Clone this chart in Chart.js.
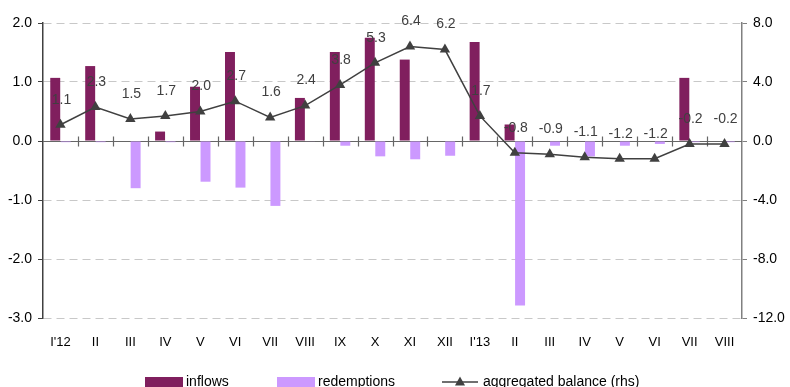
<!DOCTYPE html>
<html>
<head>
<meta charset="utf-8">
<script src="https://cdn.jsdelivr.net/npm/chart.js@4/dist/chart.umd.min.js"></script>
<style>
  html, body { margin: 0; padding: 0; background: #ffffff; }
  #wrap { width: 790px; height: 387px; }
</style>
</head>
<body>
<div id="wrap"><canvas id="c" width="790" height="387"></canvas></div>
<script>
// Monthly fund flows (left axis) and aggregated balance (right axis)
const months = ["I'12", "II", "III", "IV", "V", "VI", "VII", "VIII", "IX", "X", "XI", "XII",
                "I'13", "II", "III", "IV", "V", "VI", "VII", "VIII"];
const inflows = [1.07, 1.27, 0, 0.16, 0.92, 1.51, 0, 0.73, 1.51, 1.75, 1.38, 0,
                 1.68, 0.28, 0, 0, 0, 0, 1.07, 0];
const redemptions = [-0.02, -0.02, -0.80, -0.02, -0.69, -0.79, -1.10, -0.01, -0.08, -0.26, -0.31, -0.25,
                     -0.01, -2.79, -0.08, -0.26, -0.08, -0.05, -0.02, -0.02];
const balance = [1.1, 2.3, 1.5, 1.7, 2.0, 2.7, 1.6, 2.4, 3.8, 5.3, 6.4, 6.2,
                 1.7, -0.8, -0.9, -1.1, -1.2, -1.2, -0.2, -0.2];
const seriesNames = ["inflows", "redemptions", "aggregated balance (rhs)"];
const leftTicks = [-3, -2, -1, 0, 1, 2];
const rightTicks = [-12, -8, -4, 0, 4, 8];

const FONT = "'Liberation Sans', Arial, sans-serif";
const COL_IN = '#801f5e';
const COL_RED = '#cc99ff';
const COL_LINE = '#404040';

// Solid zero line with small category separators
const zeroLinePlugin = {
  id: 'zeroLine',
  beforeDatasetsDraw(chart) {
    const { ctx, chartArea, scales } = chart;
    const y0 = Math.round(scales.y.getPixelForValue(0)) + 0.5;
    const xs = scales.x;
    ctx.save();
    ctx.strokeStyle = '#666666';
    ctx.lineWidth = 1.2;
    ctx.beginPath();
    ctx.moveTo(chartArea.left, y0);
    ctx.lineTo(chartArea.right, y0);
    const n = months.length;
    for (let i = 1; i < n; i++) {
      const xb = Math.round((xs.getPixelForValue(i - 1) + xs.getPixelForValue(i)) / 2) + 0.5;
      ctx.moveTo(xb, y0 - 5);
      ctx.lineTo(xb, y0 + 5);
    }
    ctx.stroke();
    ctx.restore();
  }
};

// Value labels above the balance line points
const lineLabelPlugin = {
  id: 'lineLabels',
  afterDatasetsDraw(chart) {
    const { ctx } = chart;
    const meta = chart.getDatasetMeta(2);
    ctx.save();
    ctx.font = '14px ' + FONT;
    ctx.fillStyle = COL_LINE;
    ctx.textAlign = 'center';
    ctx.textBaseline = 'middle';
    meta.data.forEach((pt, i) => {
      ctx.fillText(balance[i].toFixed(1), pt.x + 1, pt.y - 25);
    });
    ctx.restore();
  }
};

// Legend row along the bottom edge
const bottomLegendPlugin = {
  id: 'bottomLegend',
  afterDraw(chart) {
    const { ctx } = chart;
    const yMid = 382;
    ctx.save();
    ctx.font = '14px ' + FONT;
    ctx.textBaseline = 'middle';
    ctx.textAlign = 'left';
    ctx.fillStyle = COL_IN;
    ctx.fillRect(145, 377, 38, 11);
    ctx.fillStyle = '#000000';
    ctx.fillText(seriesNames[0], 186, yMid);
    ctx.fillStyle = COL_RED;
    ctx.fillRect(277, 377, 38, 11);
    ctx.fillStyle = '#000000';
    ctx.fillText(seriesNames[1], 318, yMid);
    ctx.strokeStyle = COL_LINE;
    ctx.lineWidth = 1.5;
    ctx.beginPath();
    ctx.moveTo(442, yMid);
    ctx.lineTo(478, yMid);
    ctx.stroke();
    ctx.fillStyle = COL_LINE;
    ctx.beginPath();
    ctx.moveTo(460, yMid - 5.5);
    ctx.lineTo(465, yMid + 3.5);
    ctx.lineTo(455, yMid + 3.5);
    ctx.closePath();
    ctx.fill();
    ctx.fillStyle = '#000000';
    ctx.fillText(seriesNames[2], 483, yMid);
    ctx.restore();
  }
};

new Chart(document.getElementById('c'), {
  data: {
    labels: months,
    datasets: [
      {
        type: 'bar', label: seriesNames[0], data: inflows, yAxisID: 'y', order: 1,
        backgroundColor: COL_IN, borderWidth: 0,
        categoryPercentage: 0.6, barPercentage: 0.95
      },
      {
        type: 'bar', label: seriesNames[1], data: redemptions, yAxisID: 'y', order: 2,
        backgroundColor: COL_RED, borderWidth: 0,
        categoryPercentage: 0.6, barPercentage: 0.95
      },
      {
        type: 'line', label: seriesNames[2], data: balance, yAxisID: 'y2', order: 0,
        borderColor: COL_LINE, backgroundColor: COL_LINE, borderWidth: 1.5,
        pointStyle: 'triangle', pointRadius: 6, pointHoverRadius: 6,
        pointBackgroundColor: COL_LINE, pointBorderColor: COL_LINE, pointBorderWidth: 0,
        tension: 0, fill: false
      }
    ]
  },
  options: {
    responsive: false,
    animation: false,
    devicePixelRatio: 1,
    layout: { padding: { top: 23, left: 0, right: 0, bottom: 0 } },
    plugins: { legend: { display: false }, tooltip: { enabled: false } },
    scales: {
      x: {
        type: 'category',
        grid: { display: false, drawTicks: false },
        border: { display: false },
        ticks: { color: '#000000', font: { family: FONT, size: 13 }, padding: 17, maxRotation: 0, autoSkip: false },
        afterFit(scale) { scale.height = 69; }
      },
      y: {
        position: 'left',
        min: -3, max: 2,
        afterBuildTicks(scale) { scale.ticks = leftTicks.map(v => ({ value: v })); },
        ticks: {
          color: '#000000', font: { family: FONT, size: 14 }, padding: 6,
          callback: v => v.toFixed(1)
        },
        grid: {
          color: ctx => (ctx.tick && ctx.tick.value === 0) ? 'rgba(0,0,0,0)' : '#c8c8c8',
          tickColor: '#404040', tickLength: 5, tickBorderDash: [], lineWidth: 1
        },
        border: { display: true, color: '#404040', width: 1.5, dash: [8, 5] },
        afterFit(scale) { scale.width = 43; }
      },
      y2: {
        position: 'right',
        min: -12, max: 8,
        afterBuildTicks(scale) { scale.ticks = rightTicks.map(v => ({ value: v })); },
        ticks: {
          color: '#000000', font: { family: FONT, size: 14 }, padding: 6,
          callback: v => v.toFixed(1)
        },
        grid: { drawOnChartArea: false, tickColor: '#808080', tickLength: 5, tickBorderDash: [] },
        border: { display: true, color: '#808080', width: 1.5 },
        afterFit(scale) { scale.width = 48; }
      }
    }
  },
  plugins: [zeroLinePlugin, lineLabelPlugin, bottomLegendPlugin]
});
</script>
</body>
</html>
